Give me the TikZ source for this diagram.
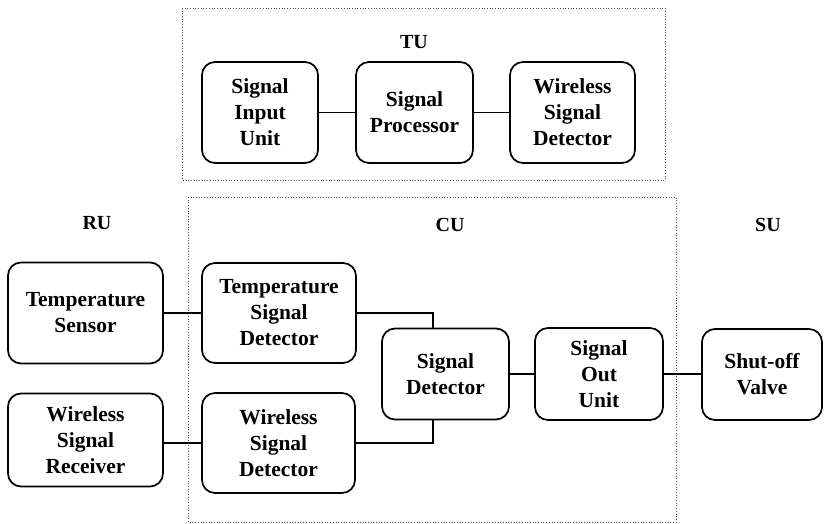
\documentclass[tikz,border=0pt]{standalone}
\usepackage{fontspec}
\setmainfont{Liberation Serif}
\begin{document}
\begin{tikzpicture}[x=1pt,y=-1pt,
  blk/.style={draw, line width=1.7pt, rounded corners=13pt, align=center, inner sep=0pt,
    font=\fontsize{21.5}{26}\selectfont\bfseries},
  grp/.style={draw=black!70, dotted, line width=0.7pt},
  lbl/.style={font=\fontsize{20}{22}\selectfont\bfseries},
  wire/.style={line width=1.5pt}]
\useasboundingbox (0,0) rectangle (824,524);
% group frames
\draw[grp] (182,8) rectangle (665,180);
\draw[grp] (188,197) rectangle (676,522);
% labels
\node[lbl] (tu) at (414,42) {TU};
\node[lbl] (ru) at (97,223) {RU};
\node[lbl] (cu) at (450,225) {CU};
\node[lbl] (su) at (768,225) {SU};
% TU blocks
\node[blk, minimum width=116pt, minimum height=101pt] (sin) at (260,112.5) {Signal\\Input\\Unit};
\node[blk, minimum width=117pt, minimum height=101pt] (sp) at (414.5,112.5) {Signal\\Processor};
\node[blk, minimum width=125pt, minimum height=101pt] (wsd1) at (572.5,112.5) {Wireless\\Signal\\Detector};
% RU blocks
\node[blk, minimum width=155pt, minimum height=101pt] (ts) at (85.5,313) {Temperature\\Sensor};
\node[blk, minimum width=155pt, minimum height=93pt] (wsr) at (85.5,440) {Wireless\\Signal\\Receiver};
% CU blocks
\node[blk, minimum width=154pt, minimum height=100pt] (tsd) at (279,313) {Temperature\\Signal\\Detector};
\node[blk, minimum width=153pt, minimum height=100pt] (wsd2) at (278.5,443) {Wireless\\Signal\\Detector};
\node[blk, minimum width=127pt, minimum height=91pt] (sd) at (445.5,374) {Signal\\Detector};
\node[blk, minimum width=128pt, minimum height=92pt] (sou) at (599,374) {Signal\\Out\\Unit};
% SU block
\node[blk, minimum width=120pt, minimum height=91pt] (sv) at (762,374.5) {Shut-off\\Valve};
% connectors
\coordinate (jx) at (433,0);
\draw[wire] (sin) -- (sp);
\draw[wire] (sp) -- (wsd1);
\draw[wire] (ts.east) -- (tsd.west);
\draw[wire] (wsr.east |- wsd2.west) -- (wsd2.west);
\draw[wire] (tsd.east) -| (jx |- sd.north);
\draw[wire] (wsd2.east) -| (jx |- sd.south);
\draw[wire] (sd.east) -- (sou.west |- sd.east);
\draw[wire] (sou.east) -- (sv.west |- sou.east);
\end{tikzpicture}
\end{document}
